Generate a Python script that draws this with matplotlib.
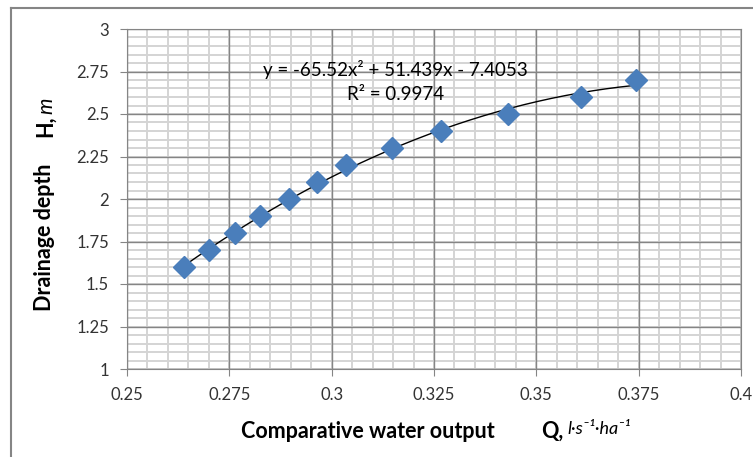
import numpy as np
import matplotlib.pyplot as plt
from matplotlib.ticker import MultipleLocator
from matplotlib.lines import Line2D

plt.rcParams['font.family'] = ['Lato', 'DejaVu Sans']

# measured points: water output Q and drainage depth H
q = [0.2639, 0.2701, 0.2764, 0.2825, 0.2896, 0.2965, 0.3036,
     0.3148, 0.3268, 0.3432, 0.3608, 0.3743]
h = [1.6, 1.7, 1.8, 1.9, 2.0, 2.1, 2.2, 2.3, 2.4, 2.5, 2.6, 2.7]
# trendline coefficients as printed on the chart
coef = [-65.52, 51.439, -7.4053]
eq_text = 'y = -65.52x² + 51.439x - 7.4053'
r2_text = 'R² = 0.9974'
xticks = [0.25, 0.275, 0.3, 0.325, 0.35, 0.375, 0.4]
xlabels = ['0.25', '0.275', '0.3', '0.325', '0.35', '0.375', '0.4']
yticks = [1, 1.25, 1.5, 1.75, 2, 2.25, 2.5, 2.75, 3]
ylabels = ['1', '1.25', '1.5', '1.75', '2', '2.25', '2.5', '2.75', '3']

W, H = 753, 457
fig = plt.figure(figsize=(W / 100, H / 100), dpi=100)
rect = [127 / W, 1 - 369 / H, (741 - 127) / W, (369 - 29) / H]

# background axes only for the light minor grid
bg = fig.add_axes(rect)
bg.set_xlim(0.25, 0.4)
bg.set_ylim(1, 3)
bg.xaxis.set_major_locator(MultipleLocator(0.005))
bg.yaxis.set_major_locator(MultipleLocator(0.05))
bg.grid(color='#d4d4d4', lw=1.4)
bg.tick_params(length=0, labelbottom=False, labelleft=False)
for s in bg.spines.values():
    s.set_visible(False)

ax = fig.add_axes(rect)
ax.patch.set_alpha(0)

xs = np.linspace(min(q), max(q), 200)
ax.plot(xs, np.polyval(coef, xs), color='black', lw=1, zorder=3)
ax.plot(q, h, 'D', color='#4a7ebb', ms=11.5, mec='#4a7ebb', zorder=4)

ax.set_xlim(0.25, 0.4)
ax.set_ylim(1, 3)
ax.set_xticks(xticks)
ax.set_xticklabels(xlabels)
ax.set_yticks(yticks)
ax.set_yticklabels(ylabels)

ax.grid(which='major', color='#858585', lw=1)
ax.set_axisbelow(True)
for s in ax.spines.values():
    s.set_color('#858585')
ax.tick_params(which='major', length=5, color='#858585', labelsize=12,
               labelcolor='#333333', pad=8)

ax.text(0.3155, 2.759, eq_text, ha='center', va='center', fontsize=13.5)
ax.text(0.3155, 2.612, r2_text, ha='center', va='center', fontsize=13.5)

# axis titles
fig.text(368 / W, 1 - 431 / H, 'Comparative water output', ha='center',
         va='center', fontsize=15.5, fontweight='bold')
fig.text(552 / W, 1 - 431 / H, 'Q,', ha='center', va='center',
         fontsize=15.5, fontweight='bold')
fig.text(567 / W, 1 - 429 / H, 'l·s⁻¹·ha⁻¹', ha='left', va='center',
         fontsize=13, style='italic')
fig.text(45 / W, 1 - 237 / H, 'Drainage depth', ha='center', va='center',
         rotation=90, fontsize=15.5, fontweight='bold')
fig.text(45 / W, 1 - 137 / H, 'H,', ha='center', va='bottom', rotation=90,
         fontsize=15.5, fontweight='bold')
fig.text(46 / W, 1 - 114 / H, 'm', ha='center', va='bottom', rotation=90,
         fontsize=15, style='italic')

# outer chart frame
fig.add_artist(Line2D([11 / W, 11 / W], [0, 1 - 8 / H], color='#858585',
                      lw=1.5, transform=fig.transFigure))
fig.add_artist(Line2D([11 / W, 1], [1 - 8 / H, 1 - 8 / H], color='#858585',
                      lw=1.5, transform=fig.transFigure))

fig.savefig('out.png', dpi=100)
